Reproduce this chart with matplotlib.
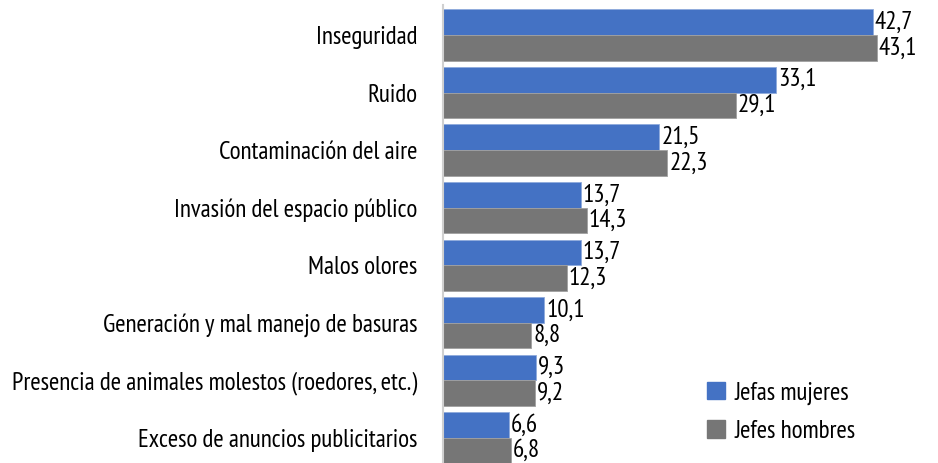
import matplotlib.pyplot as plt
from matplotlib.patches import Patch

categories = [
    "Inseguridad",
    "Ruido",
    "Contaminación del aire",
    "Invasión del espacio público",
    "Malos olores",
    "Generación y mal manejo de basuras",
    "Presencia de animales molestos (roedores, etc.)",
    "Exceso de anuncios publicitarios",
]
jefas_mujeres = [42.7, 33.1, 21.5, 13.7, 13.7, 10.1, 9.3, 6.6]
jefes_hombres = [43.1, 29.1, 22.3, 14.3, 12.3, 8.8, 9.2, 6.8]
series_names = ["Jefas mujeres", "Jefes hombres"]

plt.rcParams["font.family"] = ["PT Sans Narrow", "DejaVu Sans"]

blue = "#4472C4"
grey = "#767676"
fs = 18

fig = plt.figure(figsize=(9.38, 4.63), dpi=100)
ax = fig.add_axes([0.472, 0.0, 0.528, 0.989])

h = 0.445
y = list(range(len(categories)))
y_m = [i - h / 2 for i in y]
y_h = [i + h / 2 for i in y]
ax.barh(y_m, jefas_mujeres, height=h, color=blue, edgecolor="#8FAADC", linewidth=0.6)
ax.barh(y_h, jefes_hombres, height=h, color=grey, edgecolor="#A0A0A0", linewidth=0.6)

for yy, v in zip(y_m, jefas_mujeres):
    ax.text(v + 0.2, yy, f"{v:.1f}".replace(".", ","), va="center", ha="left", fontsize=fs)
for yy, v in zip(y_h, jefes_hombres):
    ax.text(v + 0.2, yy, f"{v:.1f}".replace(".", ","), va="center", ha="left", fontsize=fs)

ax.set_xlim(0, 49.2)
ax.set_ylim(7.44, -0.52)
ax.set_yticks(y)
ax.set_yticklabels(categories, fontsize=fs)
ax.tick_params(axis="y", length=0, pad=18)
ax.set_xticks([])
for s in ["top", "right", "bottom"]:
    ax.spines[s].set_visible(False)
ax.spines["left"].set_color("#D0D0D0")
ax.spines["left"].set_linewidth(1.5)

handles = [Patch(color=blue), Patch(color=grey)]
fig.legend(handles, series_names, loc="center left", bbox_to_anchor=(0.73, 0.11),
           frameon=False, fontsize=18, handlelength=0.7, handleheight=0.7,
           handletextpad=0.4, labelspacing=0.6)

fig.savefig("out.png", dpi=100)
